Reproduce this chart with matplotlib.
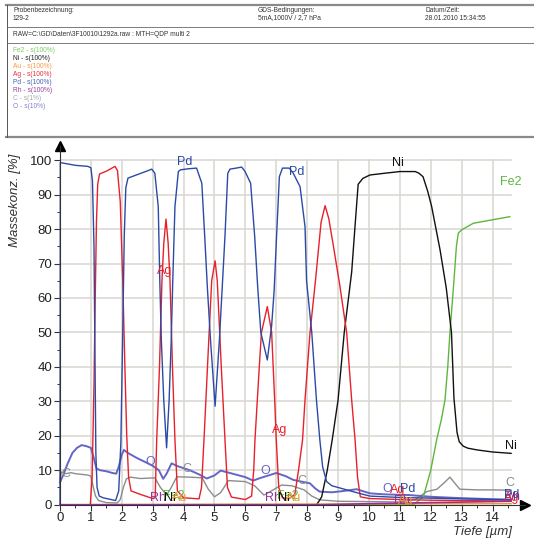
import matplotlib
matplotlib.use("Agg")
import matplotlib.pyplot as plt
from matplotlib.ticker import MultipleLocator

plt.rcParams['font.family'] = ['Liberation Sans', 'DejaVu Sans']

# depth profiles, x = Tiefe [um], y = Massekonz. [%]
pd_x = [0, 0.01, 0.5, 0.9, 1.0, 1.05, 1.1, 1.13, 1.16, 1.2, 1.27, 1.4, 1.6, 1.8, 1.9, 1.97, 2.03, 2.08, 2.13, 2.2,
        2.5, 2.8, 2.97, 3.07, 3.18, 3.23, 3.28, 3.36, 3.45, 3.53, 3.6, 3.65, 3.72, 3.83, 3.9, 4.15, 4.42, 4.59, 4.69,
        4.77, 4.87, 5.02, 5.16, 5.25, 5.34, 5.43, 5.5, 5.7, 5.88, 5.99, 6.17, 6.3, 6.4, 6.5, 6.71, 6.85, 6.93, 7.01,
        7.1, 7.2, 7.42, 7.55, 7.77, 7.93, 7.98, 8.15, 8.3, 8.41, 8.5, 8.63, 8.8, 9.2, 9.6, 10.03, 10.5, 11.0, 11.5,
        12.0, 12.5, 13.0, 13.5, 14.0, 14.6]
pd_y = [0, 99.3, 98.5, 98.2, 97.8, 94, 75, 45, 15, 5, 2.5, 2.0, 1.6, 1.2, 4, 18, 50, 78, 92, 94.8,
        95.8, 96.8, 97.4, 96.2, 86.5, 65, 47.8, 30, 16.5, 30, 47.8, 65, 86.5, 96.7, 97.2, 97.5, 97.7, 93.3, 76.8,
        63, 48, 28.6, 48, 63, 78, 96.2, 97.4, 97.7, 98.0, 96.7, 93.3, 78, 63, 50, 42, 52, 62, 78,
        95.2, 97.7, 97.7, 96.2, 92.3, 80.7, 65, 49.8, 30.4, 18.8, 11, 6.7, 5.5, 4.5, 3.5, 2.5, 2.3, 2.1, 2.0,
        1.9, 1.8, 1.7, 1.6, 1.5, 1.4]

ag_x = [0, 0.98, 1.04, 1.1, 1.14, 1.18, 1.22, 1.28, 1.5, 1.78, 1.86, 1.95, 2.03, 2.1, 2.16, 2.22, 2.3, 2.6, 3.0,
        3.08, 3.13, 3.22, 3.3, 3.36, 3.43, 3.5, 3.56, 3.64, 3.72, 3.8, 4.0, 4.5, 4.58, 4.66, 4.8, 4.91, 5.02, 5.09,
        5.22, 5.34, 5.42, 5.55, 6.0, 6.2, 6.27, 6.31, 6.45, 6.52, 6.71, 6.85, 6.95, 7.0, 7.08, 7.2, 7.4, 7.6, 7.72,
        7.85, 7.93, 8.09, 8.27, 8.45, 8.58, 8.7, 8.85, 9.05, 9.28, 9.44, 9.55, 9.63, 9.72, 10.0, 11.0, 12.0, 13.0,
        14.0, 14.6]
ag_y = [0, 0, 8, 35, 60, 82, 93, 96, 96.8, 98.2, 97, 88, 65, 40, 20, 8, 4, 3, 1.8,
        2, 18.8, 40, 65, 76, 82.9, 76, 65, 40, 18.8, 4, 2, 1.7, 5, 18.8, 45, 65, 70.8, 65,
        40, 18.8, 5, 2.2, 1.5, 2.5, 10, 18.8, 40, 50, 57.5, 50, 30, 18.8, 5, 2, 1.7, 3, 10,
        18.8, 30.4, 49.8, 65.2, 82, 86.8, 83, 75, 64, 49.8, 30.4, 18.8, 8, 2.3, 1.8, 1.5, 1.3, 1.2,
        1.1, 1.0]

ni_x = [0, 8.3, 8.38, 8.47, 8.65, 8.81, 9.0, 9.2, 9.44, 9.55, 9.65, 9.8, 10.03, 10.5, 11.0, 11.5, 11.62, 11.75,
        11.9, 12.03, 12.3, 12.5, 12.67, 12.75, 12.85, 12.92, 13.05, 13.2, 13.5, 14.0, 14.6]
ni_y = [0, 0, 1, 2.3, 10, 18.8, 30.4, 50, 67.5, 81, 93, 94.7, 95.7, 96.2, 96.7, 96.7, 96.2, 95.2,
        91, 86.5, 74, 63, 50, 31, 21, 18.3, 17, 16.4, 15.9, 15.3, 14.9]

fe_x = [0, 11.45, 11.55, 11.76, 12.0, 12.19, 12.35, 12.46, 12.55, 12.62, 12.75, 12.83, 12.89, 13.0, 13.38, 14.0, 14.56]
fe_y = [0, 0, 0.8, 2.3, 10, 18.8, 25, 30.4, 40, 49.8, 65, 75, 78.8, 79.8, 81.7, 82.7, 83.6]

o_x = [0, 0.1, 0.25, 0.4, 0.55, 0.7, 0.85, 1.0, 1.08, 1.18, 1.3, 1.5, 1.7, 1.82, 1.9, 2.0, 2.07, 2.2, 2.5, 2.8,
       3.0, 3.2, 3.34, 3.45, 3.61, 3.8, 4.2, 4.5, 4.75, 5.0, 5.2, 5.5, 6.0, 6.25, 6.5, 7.0, 7.3, 7.55, 8.09, 8.25,
       8.4, 8.8, 9.2, 9.6, 10.03, 10.5, 11.3, 12.0, 13.0, 14.0, 14.6]
o_y = [6.5, 8.5, 12, 15, 16.5, 17.3, 17, 16.5, 14, 10.5, 10, 9.7, 9.2, 9, 11, 14.5, 15.9, 15, 13.5, 12.2,
       11.3, 10, 7.5, 9, 12, 11.2, 10, 8.8, 7.6, 8.5, 9.9, 9.2, 8, 7, 7.8, 9.2, 8.3, 7.2, 6.2, 4.8,
       3.8, 3.6, 4, 4.5, 3.3, 3.0, 2.8, 2.3, 1.9, 1.6, 1.5]

c_x = [0, 0.05, 0.2, 0.35, 0.5, 0.7, 0.9, 1.0, 1.08, 1.15, 1.25, 1.5, 1.85, 1.95, 2.05, 2.15, 2.27, 2.6, 3.07, 3.25,
       3.45, 3.6, 3.78, 4.2, 4.6, 4.8, 5.0, 5.2, 5.45, 6.0, 6.3, 6.6, 6.8, 7.17, 7.5, 7.9, 8.15, 8.41, 9.0, 10.0,
       11.0, 11.5, 11.87, 12.2, 12.45, 12.62, 12.8, 12.94, 13.5, 14.0, 14.6]
c_y = [7.5, 9.5, 9, 9.3, 9, 8.8, 8.6, 8.3, 5, 2.5, 1.2, 0.6, 0.5, 1.5, 5, 7.5, 8, 7.6, 7.8, 5,
       2.8, 5, 8.1, 8, 7.8, 4.5, 2.3, 3.5, 7, 6.7, 5.5, 2.8, 3.8, 5.7, 5.5, 4.3, 2.5, 1.4, 1.0, 0.9,
       0.8, 1.5, 3.8, 4.5, 6.5, 8, 6, 4.5, 4.3, 4.3, 4.2]

rh_x = [0, 8.5, 10.0, 12.0, 14.6]
rh_y = [0, 0, 0.3, 0.6, 1.0]
au_x = [0, 14.6]
au_y = [0, 0.3]

colors = {'Fe2': '#5cb83c', 'Ni': '#111111', 'Au': '#f0962a', 'Ag': '#e8202a',
          'Pd': '#2b4aa6', 'Rh': '#93329a', 'C': '#8c8c8c', 'O': '#6466c4'}
legend_colors = {'Fe2': '#7ccc60', 'Ni': '#222222', 'Au': '#f59a40', 'Ag': '#e8303a',
                 'Pd': '#4262b4', 'Rh': '#9442a2', 'C': '#a8a8a8', 'O': '#8080d0'}
legend_text = ['Fe2 - s(100%)', 'Ni - s(100%)', 'Au - s(100%)', 'Ag - s(100%)',
               'Pd - s(100%)', 'Rh - s(100%)', 'C - s(1%)', 'O - s(10%)']

# curve name labels: (element, x, y)
curve_labels = [('Pd', 3.79, 99.5), ('Pd', 7.41, 96.6), ('Ag', 3.13, 67.9), ('Ag', 6.85, 21.7),
                ('Ni', 10.74, 99.2), ('Ni', 14.4, 17.0), ('Fe2', 14.24, 93.6),
                ('C', 0.05, 9.0), ('O', 2.75, 12.5), ('C', 3.95, 10.4), ('O', 6.47, 9.8), ('C', 7.68, 6.8),
                ('Rh', 10.8, 1.2), ('Au', 10.95, 1.2),
                ('O', 10.45, 4.5), ('Ag', 10.68, 4.2), ('Pd', 11.0, 4.5), ('C', 14.4, 6.3),
                ('Rh', 2.91, 1.9), ('Fe2', 3.33, 2.6), ('Ni', 3.36, 1.9), ('Au', 3.62, 1.9),
                ('Rh', 6.63, 1.9), ('Fe2', 7.02, 2.6), ('Ni', 7.05, 1.9), ('Au', 7.3, 1.9),
                ('Rh', 14.38, 2.2), ('Ag', 14.38, 2.0), ('Pd', 14.38, 2.8)]

fig = plt.figure(figsize=(5.34, 5.40), dpi=100)
ax = fig.add_axes([60 / 534, 35.3 / 540, 465 / 534, 358.3 / 540])

grid_c = '#d9d6cf'
for v in range(10, 101, 10):
    ax.plot([0, 14.6], [v, v], color=grid_c, lw=1.1, zorder=0)
for v in range(1, 15):
    ax.plot([v, v], [0, 100], color=grid_c, lw=1.1, zorder=0)

ax.plot(c_x, c_y, color=colors['C'], lw=1.0, clip_on=False)
ax.plot(o_x, o_y, color=colors['O'], lw=1.4, clip_on=False)
ax.plot(fe_x, fe_y, color=colors['Fe2'], lw=1.0, clip_on=False)
ax.plot(ni_x, ni_y, color=colors['Ni'], lw=1.0, clip_on=False)
ax.plot(ag_x, ag_y, color=colors['Ag'], lw=1.0, clip_on=False)
ax.plot(pd_x, pd_y, color=colors['Pd'], lw=1.0, clip_on=False)
ax.plot(au_x, au_y, color=colors['Au'], lw=1.0, clip_on=False)
ax.plot(rh_x, rh_y, color=colors['Rh'], lw=1.2, clip_on=False)

for name, lx, ly in curve_labels:
    ax.text(lx, ly, name, color=colors[name], fontsize=9, ha='left', va='center', zorder=5)

ax.set_xlim(0, 15.05)
ax.set_ylim(0, 104)
for s in ['top', 'right']:
    ax.spines[s].set_visible(False)
ax.spines['left'].set_color('#333333')
ax.spines['bottom'].set_color('#333333')
ax.xaxis.set_major_locator(MultipleLocator(1))
ax.xaxis.set_minor_locator(MultipleLocator(0.5))
ax.yaxis.set_major_locator(MultipleLocator(10))
ax.yaxis.set_minor_locator(MultipleLocator(5))
ax.set_xticks([v for v in range(0, 15)])
ax.set_yticks([v for v in range(0, 101, 10)])
ax.tick_params(which='major', length=4, width=0.8, color='#333333', labelsize=9.5, labelcolor='#222222', pad=1.5)
ax.tick_params(which='minor', length=2.5, width=0.7, color='#333333')
ax.set_xlim(0, 15.05)
ax.set_ylim(0, 104)

# arrow heads at the axis ends
ax.plot(1, 0, '>', color='black', ms=7, transform=ax.get_yaxis_transform(), clip_on=False)
ax.plot(0, 1, '^', color='black', ms=7, transform=ax.get_xaxis_transform(), clip_on=False)

ax.text(-0.097, 0.848, 'Massekonz. [%]', rotation=90, fontsize=9.5, style='italic', color='#333333',
        ha='center', va='center', transform=ax.transAxes)
ax.text(0.972, -0.076, 'Tiefe [µm]', fontsize=9.5, style='italic', color='#333333',
        ha='right', va='center', transform=ax.transAxes)

# report header
hdr = fig.add_axes([0, 0, 1, 1], zorder=-1)
hdr.set_xlim(0, 534)
hdr.set_ylim(540, 0)
hdr.axis('off')
hdr.plot([6, 534], [5, 5], color='#8a8a8a', lw=1.6)
hdr.plot([6, 534], [137, 137], color='#8a8a8a', lw=1.6)
hdr.plot([7, 7], [5, 137], color='#555555', lw=0.7)
hdr.plot([7, 534], [27, 27], color='#666666', lw=0.6)
hdr.plot([7, 534], [43, 43], color='#666666', lw=0.6)

fs = 4.8
hdr.text(13, 11, 'Probenbezeichnung:', fontsize=fs, color='#333333', va='center')
hdr.text(13, 18, '129-2', fontsize=fs, color='#333333', va='center')
hdr.text(258, 11, 'GDS-Bedingungen:', fontsize=fs, color='#333333', va='center')
hdr.text(258, 18, '5mA,1000V / 2,7 hPa', fontsize=fs, color='#333333', va='center')
hdr.text(425, 11, 'Datum/Zeit:', fontsize=fs, color='#333333', va='center')
hdr.text(425, 18, '28.01.2010 15:34:55', fontsize=fs, color='#333333', va='center')
hdr.text(13, 35, 'RAW=C:\\GD\\Daten\\3F10010\\1292a.raw : MTH=QDP multi 2', fontsize=fs, color='#333333',
         va='center')
for i, (t, key) in enumerate(zip(legend_text, ['Fe2', 'Ni', 'Au', 'Ag', 'Pd', 'Rh', 'C', 'O'])):
    hdr.text(13, 51 + i * 8, t, fontsize=fs, color=legend_colors[key], va='center')

fig.savefig('out.png', dpi=100)
